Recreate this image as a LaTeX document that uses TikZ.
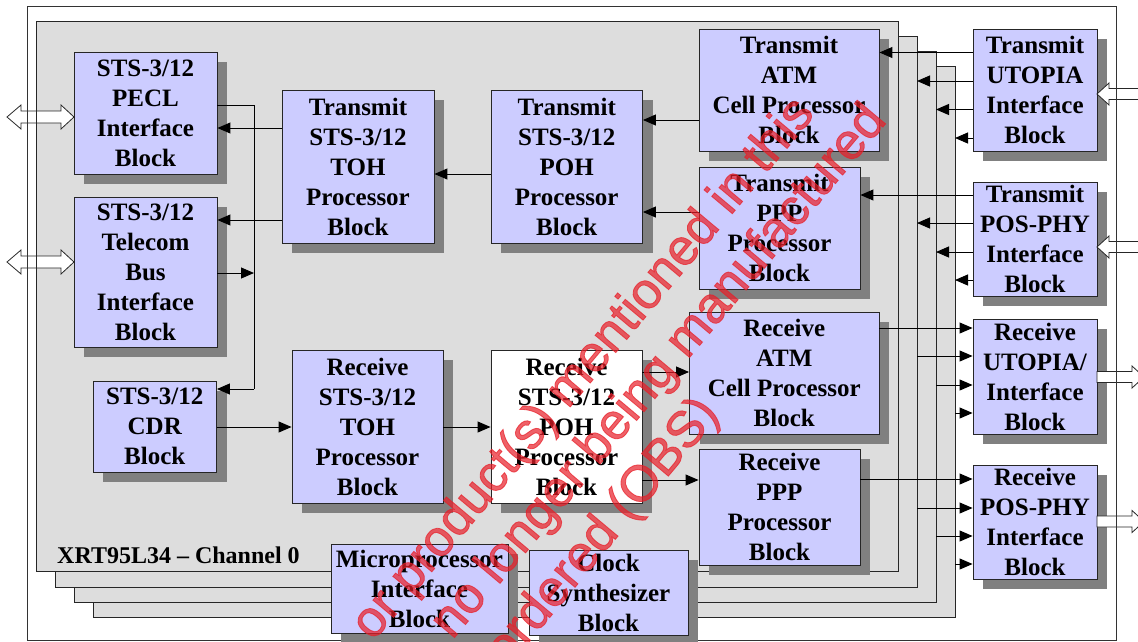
\documentclass[tikz,border=0pt]{standalone}
\usepackage{fontspec}
\setmainfont{Liberation Serif}
\newfontfamily\wmfont[FakeBold=1.6]{Liberation Sans}
\usetikzlibrary{arrows.meta,shadows}
\definecolor{blkfill}{RGB}{204,204,255}
\definecolor{panelfill}{RGB}{221,221,221}
\definecolor{shadowgray}{RGB}{128,128,128}
\definecolor{wmred}{RGB}{232,30,40}
\newcommand\mkbox[7][]{\node[blk,#1,minimum width={#5-#3},minimum height={#6-#4}] (#2) at ({(#3+#5)/2},{(#4+#6)/2}) {#7};}
\tikzset{
  blk/.style={draw=black!85, line width=0.9pt, fill=blkfill, inner sep=0pt, align=center,
    font=\fontsize{25}{30}\selectfont\bfseries,
    drop shadow={shadow xshift=10pt, shadow yshift=-10pt, fill=shadowgray, opacity=1}},
  panel/.style={draw=black!85, line width=1pt, fill=panelfill},
  frame/.style={draw=black!80, line width=1pt},
  ln/.style={line width=1pt},
  arr/.style={line width=1pt, -{Triangle[length=13pt,width=11pt]}},
  hollow/.style={draw=black!85, line width=0.8pt, fill=white},
  wm/.style={text=wmred, text opacity=0.7, font=\wmfont\fontsize{51}{60}\selectfont, inner sep=0pt}
}
\begin{document}
\begin{tikzpicture}[x=1pt,y=-1pt]
\useasboundingbox (0,0) rectangle (1138,641);
\clip (0,0) rectangle (1138,641);
% outer frame
\draw[frame] (27,6) rectangle (1116,640);
% stacked channel panels
\draw[panel] (93,66) rectangle (955,617);
\draw[panel] (74,51) rectangle (936,602);
\draw[panel] (55,36) rectangle (917,587);
\draw[panel] (36,21) rectangle (898,571);
\coordinate (p1e) at (917,0);
\coordinate (p2e) at (936,0);
\coordinate (p3e) at (955,0);
\coordinate (busx) at (254,0);
% left double hollow arrows
\foreach \c in {117,262}
  \draw[hollow] (7,\c) -- (21,\c-12) -- (21,\c-6) -- (61,\c-6) -- (61,\c-12) -- (74,\c)
    -- (61,\c+12) -- (61,\c+6) -- (21,\c+6) -- (21,\c+12) -- cycle;
\draw[frame] (27,6) -- (27,640);
\draw[panel, fill=none] (36,21) -- (36,571);
% blocks
\mkbox{pecl}{74}{52}{217}{174}{STS-3/12\\PECL\\Interface\\Block}
\mkbox{telecom}{74}{197}{217}{347}{STS-3/12\\Telecom\\Bus\\Interface\\Block}
\mkbox{cdr}{93}{381}{216.5}{472}{STS-3/12\\CDR\\Block}
\mkbox{txtoh}{282}{90}{434}{243}{Transmit\\STS-3/12\\TOH\\Processor\\Block}
\mkbox{txpoh}{491}{90}{642.5}{243}{Transmit\\STS-3/12\\POH\\Processor\\Block}
\mkbox{rxtoh}{292}{350}{443}{503}{Receive\\STS-3/12\\TOH\\Processor\\Block}
\mkbox[fill=white]{rxpoh}{491}{350}{642}{503}{Receive\\STS-3/12\\POH\\Processor\\Block}
\mkbox{txatm}{699}{29}{879}{151}{Transmit\\ATM\\Cell Processor\\Block}
\mkbox{txppp}{699}{167}{860}{289}{Transmit\\PPP\\Processor\\Block}
\mkbox{rxatm}{689.5}{312}{879}{434}{Receive\\ATM\\Cell Processor\\Block}
\mkbox{rxppp}{699}{449}{860}{565}{Receive\\PPP\\Processor\\Block}
\mkbox{txutopia}{973}{29}{1097}{151}{Transmit\\UTOPIA\\Interface\\Block}
\mkbox{txposphy}{973}{182}{1097}{296}{Transmit\\POS-PHY\\Interface\\Block}
\mkbox{rxutopia}{973}{319}{1097}{434}{Receive\\UTOPIA/\\Interface\\Block}
\mkbox{rxposphy}{973}{465}{1097}{579}{Receive\\POS-PHY\\Interface\\Block}
\mkbox{micro}{331}{544}{508}{633}{Microprocessor\\Interface\\Block}
\mkbox{clock}{529}{550}{688}{635}{Clock\\Synthesizer\\Block}
% channel label
\node[anchor=base west, inner sep=0pt, font=\fontsize{24}{28}\selectfont\bfseries] (chlabel) at (57,563) {XRT95L34 – Channel 0};
% left-side connectors
\draw[arr] (txtoh.west |- 0,128) -- (pecl.east |- 0,128);
\draw[arr] (txtoh.west |- 0,220) -- (telecom.east |- 0,220);
\draw[ln] (pecl.east |- 0,105) -- (busx |- 0,105) -- (busx |- 0,389);
\draw[arr] (busx |- 0,389) -- (cdr.east |- 0,389);
\draw[arr] (telecom.east |- 0,273) -- (busx |- 0,273);
% transmit path
\draw[arr] (txpoh.west |- 0,174) -- (txtoh.east |- 0,174);
\draw[arr] (txatm.west |- 0,120) -- (txpoh.east |- 0,120);
\draw[arr] (txppp.west |- 0,212) -- (txpoh.east |- 0,212);
\draw[arr] (txutopia.west |- 0,52.5) -- (txatm.east |- 0,52.5);
\draw[arr] (txutopia.west |- 0,81) -- (p1e |- 0,81);
\draw[arr] (txutopia.west |- 0,109.5) -- (p2e |- 0,109.5);
\draw[arr] (txutopia.west |- 0,138) -- (p3e |- 0,138);
\draw[arr] (txposphy.west |- 0,195) -- (txppp.east |- 0,195);
\draw[arr] (txposphy.west |- 0,223) -- (p1e |- 0,223);
\draw[arr] (txposphy.west |- 0,252) -- (p2e |- 0,252);
\draw[arr] (txposphy.west |- 0,280) -- (p3e |- 0,280);
% receive path
\draw[arr] (cdr.east |- 0,427) -- (rxtoh.west |- 0,427);
\draw[arr] (rxtoh.east |- 0,427) -- (rxpoh.west |- 0,427);
\draw[arr] (rxpoh.east |- 0,372) -- (rxatm.west |- 0,372);
\draw[arr] (rxpoh.east |- 0,480) -- (rxppp.west |- 0,480);
\draw[arr] (rxatm.east |- 0,328) -- (rxutopia.west |- 0,328);
\draw[arr] (p1e |- 0,356) -- (rxutopia.west |- 0,356);
\draw[arr] (p2e |- 0,385) -- (rxutopia.west |- 0,385);
\draw[arr] (p3e |- 0,413) -- (rxutopia.west |- 0,413);
\draw[arr] (rxppp.east |- 0,479) -- (rxposphy.west |- 0,479);
\draw[arr] (p1e |- 0,508) -- (rxposphy.west |- 0,508);
\draw[arr] (p2e |- 0,536) -- (rxposphy.west |- 0,536);
\draw[arr] (p3e |- 0,564) -- (rxposphy.west |- 0,564);
% right hollow arrows
\foreach \c in {94,247}
  \draw[hollow] (1097,\c) -- (1109,\c-11) -- (1109,\c-5.5) -- (1145,\c-5.5) -- (1145,\c+5.5)
    -- (1109,\c+5.5) -- (1109,\c+11) -- cycle;
\foreach \c in {377,521.5}
  \draw[hollow] (1097,\c-5.5) -- (1132,\c-5.5) -- (1132,\c-11) -- (1144,\c) -- (1132,\c+11)
    -- (1132,\c+5.5) -- (1097,\c+5.5) -- cycle;
\draw[frame] (1116,6) -- (1116,640);
% watermark
\node[wm, anchor=base east, rotate=50] (wm1) at (816,114) {or product(s) mentioned in this};
\node[wm, anchor=base east, rotate=50] (wm2) at (888,121) {no longer being manufactured};
\node[wm, anchor=base east, rotate=50] (wm3) at (720.5,414) {ordered (OBS)};
\end{tikzpicture}
\end{document}
